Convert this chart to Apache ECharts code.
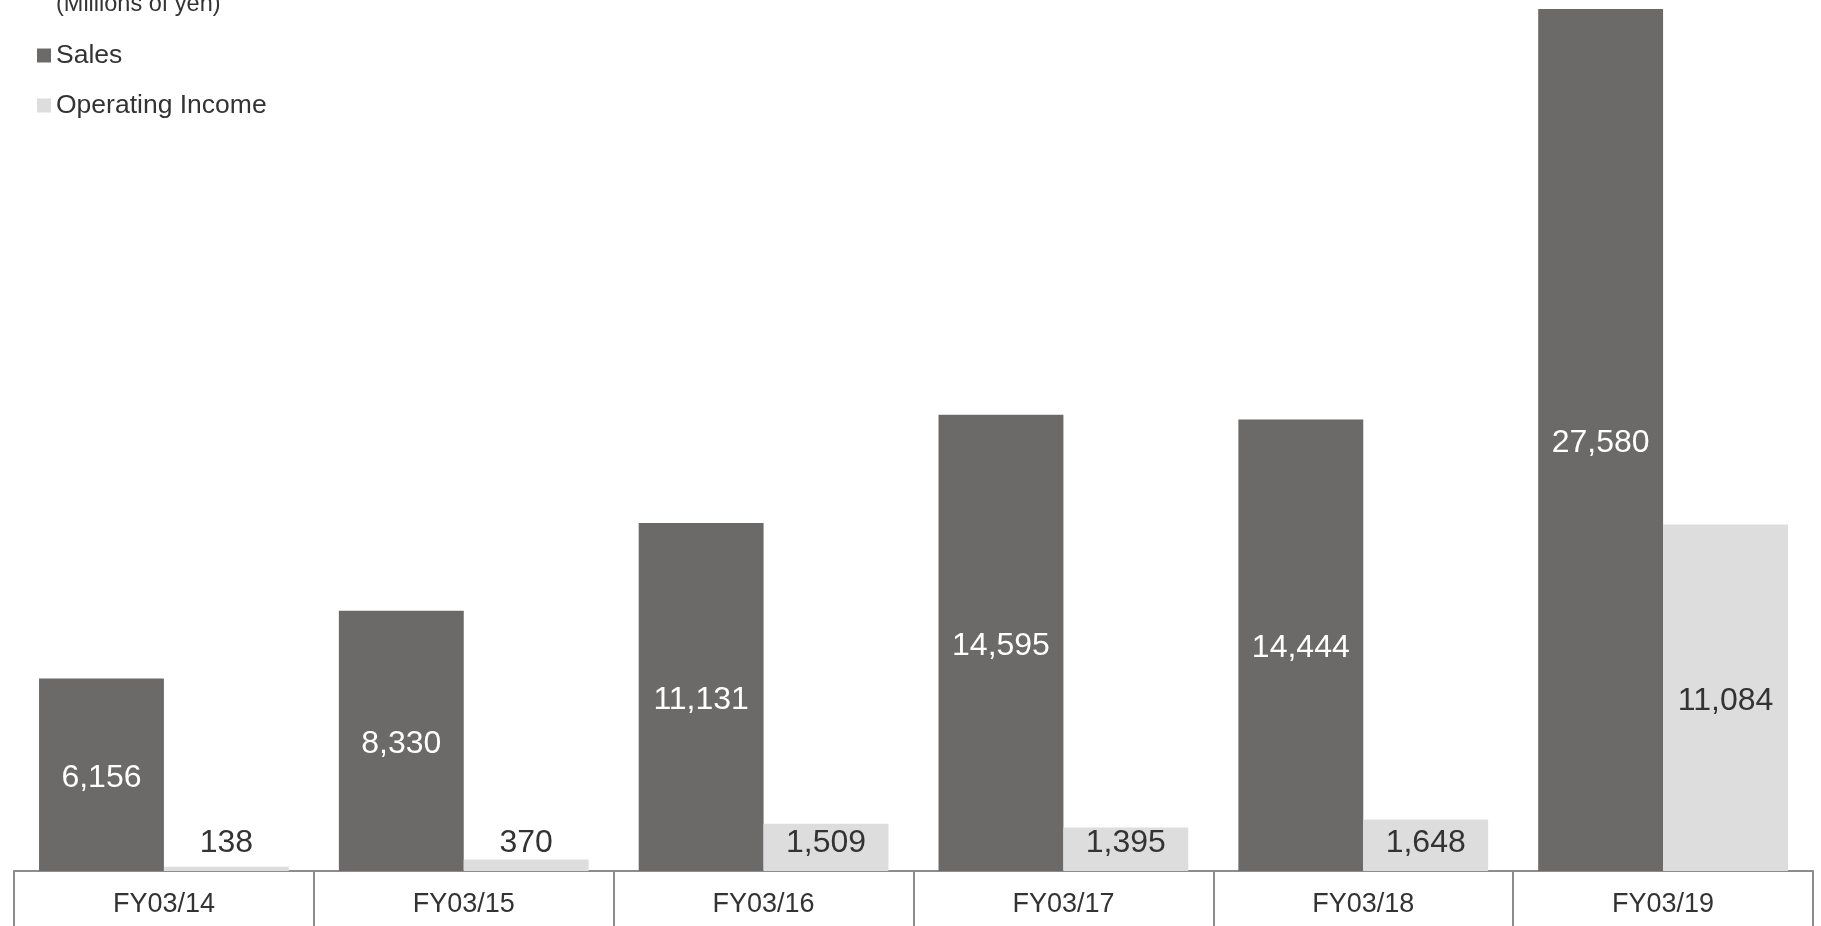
<!DOCTYPE html>
<html>
<head>
<meta charset="utf-8">
<script src="https://cdn.jsdelivr.net/npm/echarts@6/dist/echarts.min.js"></script>
<style>
html,body{margin:0;padding:0;background:#fff;}
#chart{width:1821px;height:926px;}
</style>
</head>
<body>
<div id="chart"></div>
<script>
var categories = ['FY03/14','FY03/15','FY03/16','FY03/17','FY03/18','FY03/19'];
var salesValues = [6156, 8330, 11131, 14595, 14444, 27580];
var operatingIncomeValues = [138, 370, 1509, 1395, 1648, 11084];
var unitLabel = '(Millions of yen)';

var FONT = '"Liberation Sans", Arial, Helvetica, sans-serif';
var chart = echarts.init(document.getElementById('chart'), null, {renderer:'canvas'});

function fmt(v){ return v.toLocaleString('en-US'); }

var opData = operatingIncomeValues.map(function(v){
  if (v < 5000) {
    return { value: v, label: { position: 'insideBottom', distance: 12, offset: [0, 0] } };
  }
  return { value: v };
});

var option = {
  backgroundColor: '#ffffff',
  animation: false,
  textStyle: { fontFamily: FONT },
  grid: { left: 14, right: 8, top: 9, bottom: 55, containLabel: false },
  legend: {
    orient: 'vertical',
    left: 37, top: 42,
    padding: 0,
    itemWidth: 14, itemHeight: 14, itemGap: 23,
    icon: 'rect',
    textStyle: { fontFamily: FONT, fontSize: 26.5, color: '#333333', padding: [0,0,0,0] },
    data: ['Sales', 'Operating Income']
  },
  graphic: [{
    type: 'text', left: 56, top: -7,
    style: { text: unitLabel, font: '23.5px ' + FONT, fill: '#333333' }
  }],
  xAxis: {
    type: 'category',
    data: categories,
    boundaryGap: true,
    axisLine: { show: true, lineStyle: { color: '#8c8c8c', width: 2 } },
    axisTick: { show: true, alignWithLabel: false, length: 55, lineStyle: { color: '#8c8c8c', width: 2 } },
    axisLabel: { fontFamily: FONT, fontSize: 27, color: '#333333', margin: 20 }
  },
  yAxis: {
    type: 'value',
    min: 0,
    max: function(v){ return v.max; },
    show: false,
    splitLine: { show: false }
  },
  series: [
    {
      name: 'Sales', type: 'bar',
      data: salesValues,
      barGap: '0%', barCategoryGap: '16.7%',
      itemStyle: { color: '#6b6a68' },
      label: { show: true, position: 'inside', offset: [0, 3], color: '#ffffff', fontFamily: FONT, fontSize: 32,
        formatter: function(p){ return fmt(p.value); } }
    },
    {
      name: 'Operating Income', type: 'bar',
      data: opData,
      barGap: '0%', barCategoryGap: '16.7%',
      itemStyle: { color: '#dddddd' },
      label: { show: true, position: 'inside', offset: [0, 3], color: '#333333', fontFamily: FONT, fontSize: 32,
        formatter: function(p){ return fmt(p.value); } }
    }
  ]
};
chart.setOption(option);
</script>
</body>
</html>
